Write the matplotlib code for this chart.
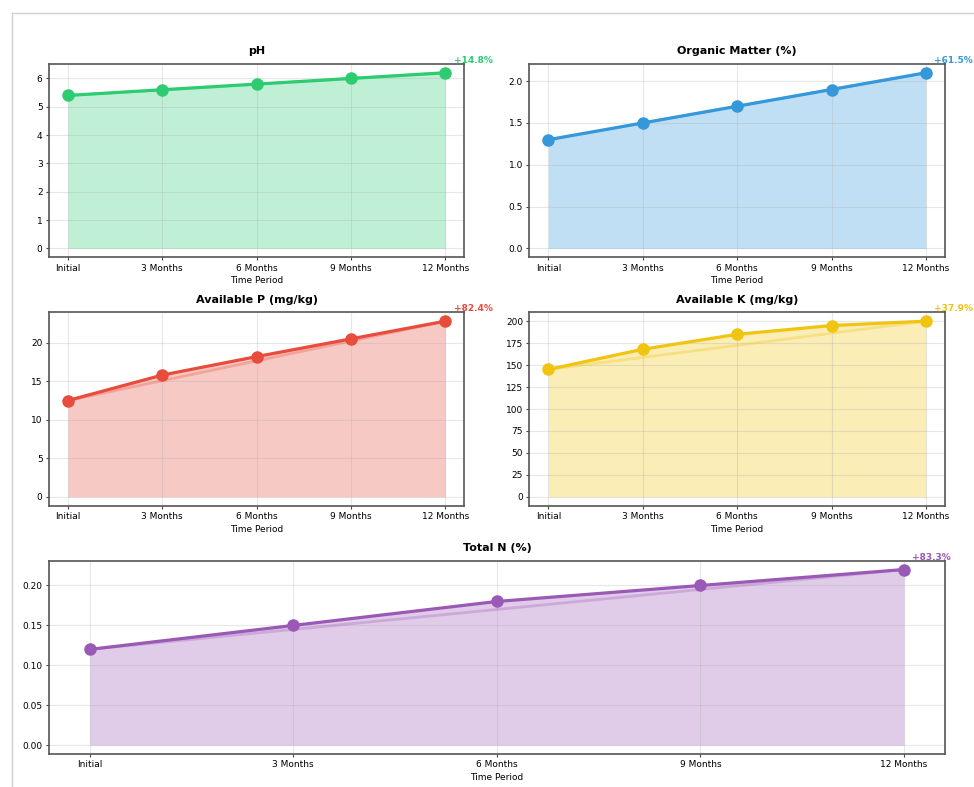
import matplotlib
matplotlib.use('Agg')
import matplotlib.pyplot as plt
from matplotlib.lines import Line2D

# 时间节点
periods = ['Initial', '3 Months', '6 Months', '9 Months', '12 Months']

# 各项土壤指标
ph_vals = [5.4, 5.6, 5.8, 6.0, 6.2]
om_vals = [1.3, 1.5, 1.7, 1.9, 2.1]
p_vals = [12.5, 15.8, 18.2, 20.5, 22.8]
k_vals = [145, 168, 185, 195, 200]
n_vals = [0.12, 0.15, 0.18, 0.20, 0.22]

titles = ['pH', 'Organic Matter (%)', 'Available P (mg/kg)', 'Available K (mg/kg)', 'Total N (%)']
colors = ['#2ecc71', '#3498db', '#e74c3c', '#f1c40f', '#9b59b6']


def draw_panel(ax, values, title, color):
    x = list(range(len(periods)))
    ax.fill_between(x, 0, values, color=color, alpha=0.3, linewidth=0)
    # 首末两点连线（参考趋势）
    ax.plot([x[0], x[-1]], [values[0], values[-1]], color=color, alpha=0.3, linewidth=2)
    ax.plot(x, values, marker='o', color=color, linewidth=2.3, markersize=8)

    ax.set_xticks(x)
    ax.set_xticklabels(periods)
    ax.tick_params(labelsize=6.5, length=2.3, pad=2.3, color='#444444')
    ax.set_xlabel('Time Period', fontsize=6.5, labelpad=2.6)
    ax.set_title(title, fontsize=8, fontweight='bold', pad=7)
    ax.grid(True, alpha=0.3)
    for s in ax.spines.values():
        s.set_color('#555555')
        s.set_linewidth(1.2)

    change = (values[-1] - values[0]) / values[0] * 100
    ax.annotate(f'+{change:.1f}%', xy=(x[-1], values[-1]), xytext=(6, 9),
                textcoords='offset points', ha='left', va='center',
                fontsize=6.5, fontweight='bold', color=color, annotation_clip=False)


fig = plt.figure(figsize=(9.74, 7.87), dpi=100)
gs = fig.add_gridspec(3, 2, left=0.0503, right=0.970, top=0.9187, bottom=0.0419,
                      hspace=0.285, wspace=0.157)
axes = [fig.add_subplot(gs[0, 0]), fig.add_subplot(gs[0, 1]),
        fig.add_subplot(gs[1, 0]), fig.add_subplot(gs[1, 1]),
        fig.add_subplot(gs[2, :])]

all_vals = [ph_vals, om_vals, p_vals, k_vals, n_vals]
for ax, vals, t, c in zip(axes, all_vals, titles, colors):
    draw_panel(ax, vals, t, c)

# 截图边框
fig.add_artist(Line2D([12 / 974, 12 / 974], [0, 1 - 13 / 787], color='#d0d0d0', linewidth=1))
fig.add_artist(Line2D([12 / 974, 1], [1 - 13 / 787, 1 - 13 / 787], color='#d0d0d0', linewidth=1))

fig.savefig('out.png', dpi=100)
